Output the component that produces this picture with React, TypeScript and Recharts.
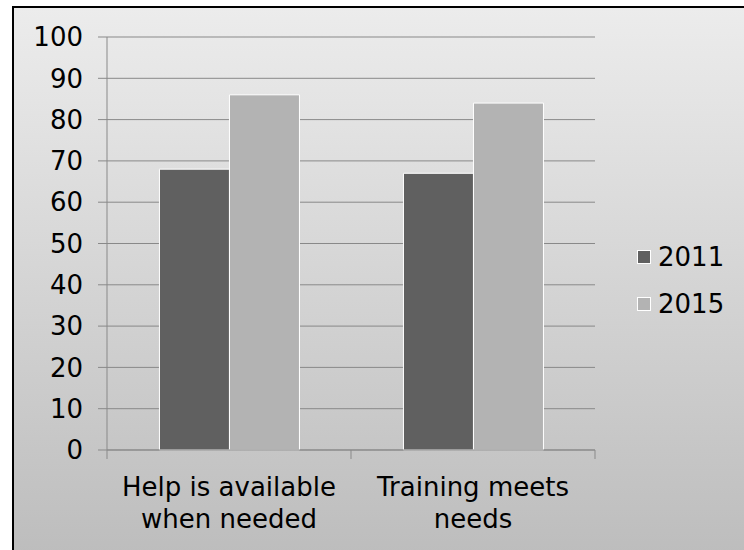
import { BarChart, Bar, XAxis, YAxis, CartesianGrid, Legend } from 'recharts';

const categories = ['Help is available when needed', 'Training meets needs'];
const series2011 = [68, 67];
const series2015 = [86, 84];
const yTicks = [0, 10, 20, 30, 40, 50, 60, 70, 80, 90, 100];

const data = categories.map((name, i) => ({
  name,
  y2011: series2011[i],
  y2015: series2015[i],
}));

const FONT = "'DejaVu Sans', Verdana, sans-serif";
const GRID = '#898989';
const FS = 26;

// greedy word wrap, about 17 characters per line
function wrap(label: string, max = 17) {
  const lines: string[] = [];
  let cur = '';
  label.split(' ').forEach((w) => {
    const next = cur ? cur + ' ' + w : w;
    if (next.length > max && cur) {
      lines.push(cur);
      cur = w;
    } else {
      cur = next;
    }
  });
  if (cur) lines.push(cur);
  return lines;
}

function CategoryTick({ x, y, payload, index, visibleTicksCount }: any) {
  const half = payload.offset || 0;
  const isLast = index === visibleTicksCount - 1;
  return (
    <g>
      {/* Excel style tick marks between the categories */}
      {half > 0 && <line x1={x - half} x2={x - half} y1={y} y2={y + 9} stroke={GRID} />}
      {half > 0 && isLast && <line x1={x + half} x2={x + half} y1={y} y2={y + 9} stroke={GRID} />}
      <text textAnchor="middle" fontSize={FS} fill="#000" fontFamily={FONT}>
        {wrap(payload.value).map((line, i) => (
          <tspan key={i} x={x} y={y + 46 + i * 32}>
            {line}
          </tspan>
        ))}
      </text>
    </g>
  );
}

function LegendBox({ payload }: any) {
  return (
    <div style={{ fontFamily: FONT, fontSize: FS, color: '#000' }}>
      {(payload || []).map((entry: any) => (
        <div key={entry.value} style={{ display: 'flex', alignItems: 'center', height: 47 }}>
          <span
            style={{
              width: 12,
              height: 12,
              background: entry.color,
              border: '1px solid #fff',
              marginRight: 7,
            }}
          />
          <span>{entry.value}</span>
        </div>
      ))}
    </div>
  );
}

export default function App() {
  return (
    <div
      style={{
        position: 'absolute',
        left: 0,
        top: 0,
        width: 744,
        height: 550,
        overflow: 'hidden',
        fontFamily: FONT,
      }}
    >
      {/* frame with grey gradient, cut off at right and bottom */}
      <div
        style={{
          position: 'absolute',
          left: 12,
          top: 6,
          width: 760,
          height: 570,
          border: '2px solid #000',
          background: 'linear-gradient(#ececec, #bbbbbb)',
        }}
      />
      <div style={{ position: 'absolute', left: 0, top: 0 }}>
        <BarChart
          width={744}
          height={550}
          data={data}
          margin={{ top: 37, right: 149, bottom: 0, left: 0 }}
          barCategoryGap="21.5%"
          barGap={0}
        >
          <CartesianGrid vertical={false} stroke={GRID} strokeWidth={1} />
          <XAxis
            dataKey="name"
            interval={0}
            height={100}
            axisLine={{ stroke: GRID }}
            tickLine={false}
            tickSize={0}
            tickMargin={0}
            tick={<CategoryTick />}
          />
          <YAxis
            width={107}
            domain={[0, 100]}
            ticks={yTicks}
            interval={0}
            axisLine={{ stroke: GRID }}
            tickLine={{ stroke: GRID }}
            tickSize={9}
            tickMargin={15}
            tick={{ fill: '#000', fontSize: FS, fontFamily: FONT }}
          />
          <Legend
            layout="vertical"
            align="center"
            verticalAlign="middle"
            content={<LegendBox />}
            wrapperStyle={{ left: 637, top: 233, width: 100 }}
          />
          <Bar dataKey="y2011" name="2011" fill="#606060" stroke="#fff" strokeWidth={1} isAnimationActive={false} />
          <Bar dataKey="y2015" name="2015" fill="#b3b3b3" stroke="#fff" strokeWidth={1} isAnimationActive={false} />
        </BarChart>
      </div>
    </div>
  );
}
